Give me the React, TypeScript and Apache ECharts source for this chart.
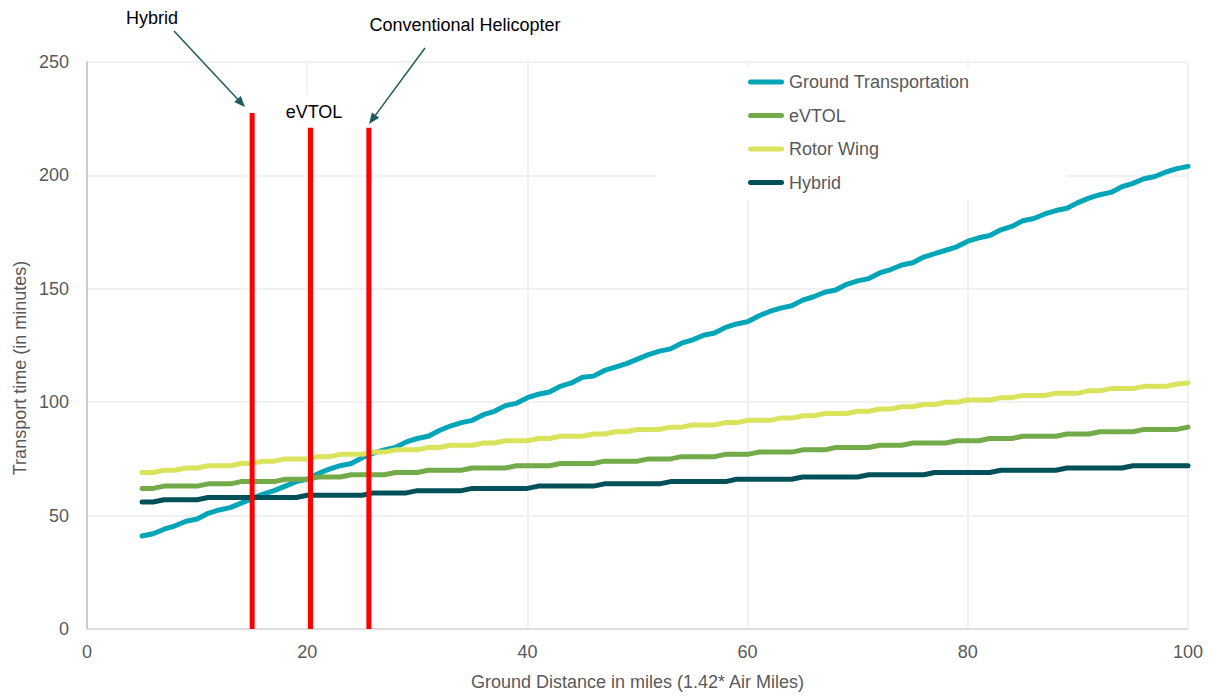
import { useEffect, useRef } from 'react';
import * as echarts from 'echarts';

const distances = [
  5, 6, 7, 8, 9, 10, 11, 12, 13, 14,
  15, 16, 17, 18, 19, 20, 21, 22, 23, 24,
  25, 26, 27, 28, 29, 30, 31, 32, 33, 34,
  35, 36, 37, 38, 39, 40, 41, 42, 43, 44,
  45, 46, 47, 48, 49, 50, 51, 52, 53, 54,
  55, 56, 57, 58, 59, 60, 61, 62, 63, 64,
  65, 66, 67, 68, 69, 70, 71, 72, 73, 74,
  75, 76, 77, 78, 79, 80, 81, 82, 83, 84,
  85, 86, 87, 88, 89, 90, 91, 92, 93, 94,
  95, 96, 97, 98, 99, 100,
];

const groundTransportation = [
  41, 42, 44, 45.5, 47.5, 48.5, 51, 52.5, 53.5, 55.5,
  57.5, 59.5, 61, 63, 65, 66, 68.5, 70.5, 72, 73,
  75.5, 77.5, 79, 80, 82.5, 84, 85, 87.5, 89.5, 91,
  92, 94.5, 96, 98.5, 99.5, 102, 103.5, 104.5, 107, 108.5,
  111, 111.5, 114, 115.5, 117, 119, 121, 122.5, 123.5, 126,
  127.5, 129.5, 130.5, 133, 134.5, 135.5, 138, 140, 141.5, 142.5,
  145, 146.5, 148.5, 149.5, 152, 153.5, 154.5, 157, 158.5, 160.5,
  161.5, 164, 165.5, 167, 168.5, 171, 172.5, 173.5, 176, 177.5,
  180, 181, 183, 184.5, 185.5, 188, 190, 191.5, 192.5, 195,
  196.5, 198.5, 199.5, 201.5, 203, 204,
];

const eVTOL = [
  62, 62, 63, 63, 63, 63, 64, 64, 64, 65,
  65, 65, 65, 66, 66, 66, 67, 67, 67, 68,
  68, 68, 68, 69, 69, 69, 70, 70, 70, 70,
  71, 71, 71, 71, 72, 72, 72, 72, 73, 73,
  73, 73, 74, 74, 74, 74, 75, 75, 75, 76,
  76, 76, 76, 77, 77, 77, 78, 78, 78, 78,
  79, 79, 79, 80, 80, 80, 80, 81, 81, 81,
  82, 82, 82, 82, 83, 83, 83, 84, 84, 84,
  85, 85, 85, 85, 86, 86, 86, 87, 87, 87,
  87, 88, 88, 88, 88, 89,
];

const rotorWing = [
  69, 69, 70, 70, 71, 71, 72, 72, 72, 73,
  73, 74, 74, 75, 75, 75, 76, 76, 77, 77,
  77, 78, 78, 79, 79, 79, 80, 80, 81, 81,
  81, 82, 82, 83, 83, 83, 84, 84, 85, 85,
  85, 86, 86, 87, 87, 88, 88, 88, 89, 89,
  90, 90, 90, 91, 91, 92, 92, 92, 93, 93,
  94, 94, 95, 95, 95, 96, 96, 97, 97, 98,
  98, 99, 99, 100, 100, 101, 101, 101, 102, 102,
  103, 103, 103, 104, 104, 104, 105, 105, 106, 106,
  106, 107, 107, 107, 108, 108.5,
];

const hybrid = [
  56, 56, 57, 57, 57, 57, 58, 58, 58, 58,
  58, 58, 58, 58, 58, 59, 59, 59, 59, 59,
  59, 60, 60, 60, 60, 61, 61, 61, 61, 61,
  62, 62, 62, 62, 62, 62, 63, 63, 63, 63,
  63, 63, 64, 64, 64, 64, 64, 64, 65, 65,
  65, 65, 65, 65, 66, 66, 66, 66, 66, 66,
  67, 67, 67, 67, 67, 67, 68, 68, 68, 68,
  68, 68, 69, 69, 69, 69, 69, 69, 70, 70,
  70, 70, 70, 70, 71, 71, 71, 71, 71, 71,
  72, 72, 72, 72, 72, 72,
];

const seriesNames = ['Ground Transportation', 'eVTOL', 'Rotor Wing', 'Hybrid'];
const seriesValues = [groundTransportation, eVTOL, rotorWing, hybrid];
const seriesColors = ['#00A6B8', '#74AB4A', '#D9E35B', '#00505A'];

// vertical threshold markers (x position, top value)
const markerLabels = ['Hybrid', 'eVTOL', 'Conventional Helicopter'];
const markerDistances = [15, 20.3, 25.6];
const markerTops = [227.5, 221, 221];

const xTitle = 'Ground Distance in miles (1.42* Air Miles)';
const yTitle = 'Transport time (in minutes)';

const FONT = '"Liberation Sans", Arial, sans-serif';
const LABEL_COLOR = '#595959';
const ARROW_COLOR = '#1E5B5E';
const LEGEND_ICON = 'path://M2.5,0 L33.5,0 A2.5,2.5 0 0 1 33.5,5 L2.5,5 A2.5,2.5 0 0 1 2.5,0 Z';

function arrow(x1: number, y1: number, x2: number, y2: number) {
  const ang = Math.atan2(y2 - y1, x2 - x1);
  const len = 11;
  const half = 4.5;
  const c = Math.cos(ang);
  const s = Math.sin(ang);
  const bx = x2 - len * c;
  const by = y2 - len * s;
  return [
    {
      type: 'line',
      shape: { x1, y1, x2: bx, y2: by },
      style: { stroke: ARROW_COLOR, lineWidth: 1.5 },
      silent: true,
      z: 5,
    },
    {
      type: 'polygon',
      shape: {
        points: [
          [x2, y2],
          [bx + half * s, by - half * c],
          [bx - half * s, by + half * c],
        ],
      },
      style: { fill: ARROW_COLOR },
      silent: true,
      z: 5,
    },
  ];
}

export default function App() {
  const ref = useRef<HTMLDivElement>(null);

  useEffect(() => {
    if (!ref.current) return;
    const chart = echarts.init(ref.current, undefined, { renderer: 'svg' });

    const lineSeries = seriesNames.map((name, i) => ({
      name,
      type: 'line',
      data: distances.map((d, j) => [d, seriesValues[i][j]]),
      symbol: 'none',
      showSymbol: false,
      smooth: false,
      lineStyle: { color: seriesColors[i], width: 5, cap: 'round', join: 'round' },
      itemStyle: { color: seriesColors[i] },
      z: 2,
    }));

    const markerSeries = markerLabels.map((label, i) => ({
      name: label + ' threshold',
      type: 'line',
      data: [
        [markerDistances[i], 0],
        [markerDistances[i], markerTops[i]],
      ],
      symbol: 'none',
      lineStyle: { color: '#FF0000', width: 5, cap: 'butt' },
      itemStyle: { color: '#FF0000' },
      silent: true,
      z: 3,
    }));

    const graphics: any[] = [
      {
        type: 'rect',
        shape: { x: 656, y: 66, width: 411, height: 134 },
        style: { fill: '#FFFFFF' },
        silent: true,
        z: 1,
      },
      {
        type: 'text',
        x: 314,
        y: 112,
        style: {
          text: markerLabels[1],
          font: `18px ${FONT}`,
          fill: '#000000',
          align: 'center',
          verticalAlign: 'middle',
          backgroundColor: '#FFFFFF',
          padding: [11, 6, 6, 6],
        },
        silent: true,
        z: 1,
      },
      {
        type: 'text',
        x: 152,
        y: 18,
        style: {
          text: markerLabels[0],
          font: `18px ${FONT}`,
          fill: '#000000',
          align: 'center',
          verticalAlign: 'middle',
        },
        silent: true,
        z: 5,
      },
      {
        type: 'text',
        x: 465,
        y: 25,
        style: {
          text: markerLabels[2],
          font: `18px ${FONT}`,
          fill: '#000000',
          align: 'center',
          verticalAlign: 'middle',
        },
        silent: true,
        z: 5,
      },
      {
        type: 'text',
        x: 20,
        y: 368,
        rotation: Math.PI / 2,
        style: {
          text: yTitle,
          font: `18px ${FONT}`,
          fill: LABEL_COLOR,
          align: 'center',
          verticalAlign: 'middle',
        },
        silent: true,
        z: 5,
      },
      ...arrow(174, 31, 245, 107),
      ...arrow(425, 48, 369, 124),
    ];

    chart.setOption({
      animation: false,
      backgroundColor: '#FFFFFF',
      textStyle: { fontFamily: FONT },
      grid: { left: 87, right: 21, top: 62, bottom: 66, containLabel: false },
      legend: {
        data: seriesNames.map((name) => ({ name, icon: LEGEND_ICON })),
        orient: 'vertical',
        left: 748,
        top: 73,
        itemWidth: 36,
        itemHeight: 5,
        itemGap: 15.5,
        padding: 0,
        textStyle: { color: LABEL_COLOR, fontSize: 18, fontFamily: FONT },
        selectedMode: false,
        z: 4,
      },
      xAxis: {
        type: 'value',
        min: 0,
        max: 100,
        interval: 20,
        name: xTitle,
        nameLocation: 'middle',
        nameGap: 44,
        nameTextStyle: { color: LABEL_COLOR, fontSize: 18, fontFamily: FONT },
        axisLine: { show: true, lineStyle: { color: '#D9D9D9', width: 1.5 } },
        axisTick: { show: false },
        axisLabel: { color: LABEL_COLOR, fontSize: 18, margin: 14, fontFamily: FONT },
        splitLine: { show: true, lineStyle: { color: '#EDEDED', width: 1.5 } },
      },
      yAxis: {
        type: 'value',
        min: 0,
        max: 250,
        interval: 50,
        axisLine: { show: true, lineStyle: { color: '#BFBFBF', width: 1.5 } },
        axisTick: { show: false },
        axisLabel: { color: LABEL_COLOR, fontSize: 18, margin: 18, fontFamily: FONT },
        splitLine: { show: true, lineStyle: { color: '#EDEDED', width: 1.5 } },
      },
      series: [...lineSeries, ...markerSeries],
      graphic: { elements: graphics },
    });

    return () => {
      chart.dispose();
    };
  }, []);

  return (
    <div
      ref={ref}
      style={{ position: 'fixed', left: 0, top: 0, width: 1209, height: 696, background: '#fff' }}
    />
  );
}
